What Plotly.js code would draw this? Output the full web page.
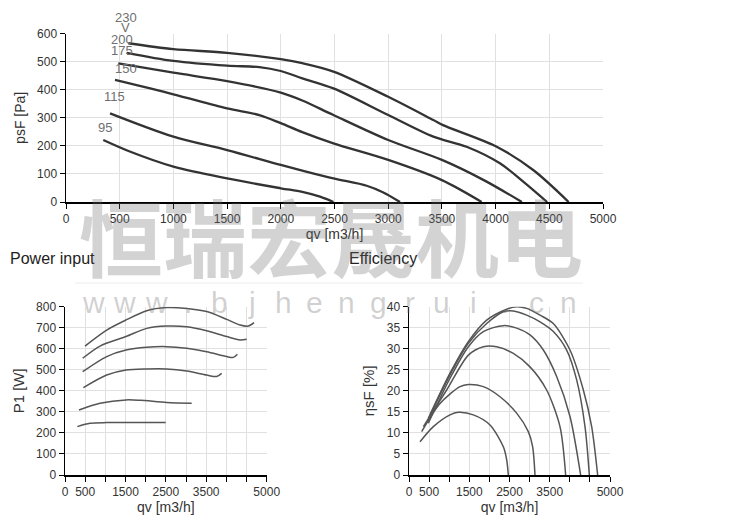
<!DOCTYPE html>
<html>
<head>
<meta charset="utf-8">
<script src="https://cdn.plot.ly/plotly-3.0.1.min.js"></script>
<style>html,body{margin:0;padding:0;background:#fff;}#chart{width:750px;height:524px;}</style>
</head>
<body>
<div id="chart"></div>
<script>
// ---------- DATA ----------
const seriesNames = ["230", "200", "175", "150", "115", "95"];

// Pressure curves psF [Pa] vs qv [m3/h]
const p230x = [580, 1000, 1500, 2000, 2200, 2490, 3000, 3420, 3510, 4010, 4350, 4680];
const p230y = [566, 545, 532, 509, 495, 465, 375, 292, 274, 197, 114, 0];
const p200x = [565, 1000, 1500, 1800, 2000, 2200, 2490, 3000, 3420, 3730, 4040, 4260, 4480];
const p200y = [532, 503, 486, 481, 467, 441, 405, 310, 233, 197, 138, 72, 0];
const p175x = [487, 1000, 1500, 2000, 2200, 2490, 3000, 3500, 3890, 4245];
const p175y = [494, 461, 431, 390, 362, 310, 221, 150, 78, 0];
const p150x = [456, 1000, 1500, 1800, 2000, 2200, 2490, 3000, 3500, 3870];
const p150y = [435, 384, 334, 310, 281, 249, 209, 150, 78, 0];
const p115x = [410, 1000, 1500, 2000, 2200, 2490, 2800, 2950, 3110];
const p115y = [316, 233, 185, 132, 112, 84, 58, 35, 0];
const p95x = [347, 600, 1000, 1500, 2000, 2200, 2365, 2490];
const p95y = [221, 179, 126, 84, 49, 36, 19, 0];

// Power input P1 [W]
const w230x = [496, 1033, 1512, 2025, 2521, 3017, 3512, 4008, 4339, 4545, 4686];
const w230y = [613, 689, 737, 781, 796, 792, 777, 740, 713, 708, 724];
const w200x = [438, 868, 1512, 2025, 2521, 3017, 3512, 4008, 4339, 4504];
const w200y = [555, 613, 658, 697, 708, 705, 686, 658, 642, 645];
const w175x = [438, 1033, 1512, 2025, 2521, 3017, 3512, 4008, 4174, 4273];
const w175y = [491, 563, 594, 607, 610, 602, 586, 563, 559, 574];
const w150x = [455, 1033, 1512, 2025, 2521, 3017, 3512, 3760, 3884];
const w150y = [415, 475, 499, 504, 504, 494, 475, 468, 483];
const w115x = [347, 868, 1512, 1860, 2521, 3140];
const w115y = [309, 341, 357, 355, 345, 341];
const w95x = [306, 620, 1033, 1694, 2496];
const w95y = [230, 246, 249, 249, 249];

// Efficiency etasF [%]
const e230x = [481, 1020, 1476, 1932, 2430, 2678, 2927, 3259, 3590, 4005, 4337, 4544, 4693];
const e230y = [13.5, 24.2, 31.7, 36.8, 39.4, 40.0, 39.6, 38.0, 36.0, 29.7, 20.2, 11.5, 0];
const e200x = [456, 1020, 1476, 1932, 2347, 2595, 2927, 3259, 3590, 3922, 4171, 4378, 4486];
const e200y = [12.7, 23.8, 31.3, 36.0, 38.8, 39.0, 38.0, 36.4, 34.1, 29.7, 22.6, 11.5, 0];
const e175x = [481, 1020, 1476, 1849, 2347, 2678, 3010, 3342, 3673, 4005, 4270];
const e175y = [12.3, 23.0, 30.5, 34.1, 35.5, 34.9, 33.3, 29.7, 23.4, 13.9, 0];
const e150x = [357, 937, 1476, 1849, 2181, 2595, 3010, 3424, 3756, 3897];
const e150y = [11.5, 20.2, 28.5, 30.5, 30.5, 28.9, 25.7, 20.2, 11.5, 0];
const e115x = [315, 771, 1269, 1476, 1849, 2264, 2678, 2968, 3076, 3134];
const e115y = [10.3, 17.0, 21.0, 21.5, 21.0, 18.6, 14.7, 10.3, 6.7, 0];
const e95x = [274, 605, 1020, 1227, 1600, 2015, 2347, 2430, 2471];
const e95y = [7.9, 11.5, 14.3, 14.9, 14.3, 11.9, 6.7, 3.6, 0];

// Curve labels on pressure chart (x in qv units)
const labelText = ["230", "V", "200", "175", "150", "115", "95"];
const labelX = [558, 558, 518, 518, 558, 450, 363];

const bottomTickVals = [0, 500, 1500, 2500, 3500, 5000];
const bottomTickText = ["0", "500", "1500", "2500", "3500", "5000"];

const watermarkCn = "恒瑞宏晟机电";
const watermarkUrl = "www.bjhengrui.cn";

// ---------- TRACES ----------
const pSets = [[p230x, p230y], [p200x, p200y], [p175x, p175y], [p150x, p150y], [p115x, p115y], [p95x, p95y]];
const wSets = [[w230x, w230y], [w200x, w200y], [w175x, w175y], [w150x, w150y], [w115x, w115y], [w95x, w95y]];
const eSets = [[e230x, e230y], [e200x, e200y], [e175x, e175y], [e150x, e150y], [e115x, e115y], [e95x, e95y]];

const traces = [];
pSets.forEach((s, i) => traces.push({
  x: s[0], y: s[1], name: seriesNames[i], type: 'scatter', mode: 'lines',
  line: {color: '#333', width: 2.3, shape: 'spline', smoothing: 0.9},
  xaxis: 'x', yaxis: 'y', showlegend: false, hoverinfo: 'x+y'
}));
wSets.forEach((s, i) => traces.push({
  x: s[0], y: s[1], name: seriesNames[i], type: 'scatter', mode: 'lines',
  line: {color: '#555', width: 1.5, shape: 'spline', smoothing: 0.8},
  xaxis: 'x2', yaxis: 'y2', showlegend: false, hoverinfo: 'x+y'
}));
eSets.forEach((s, i) => traces.push({
  x: s[0], y: s[1], name: seriesNames[i], type: 'scatter', mode: 'lines',
  line: {color: '#555', width: 1.5, shape: 'spline', smoothing: 0.8},
  xaxis: 'x3', yaxis: 'y3', showlegend: false, hoverinfo: 'x+y'
}));

// ---------- LAYOUT ----------
const FONT = 'Liberation Sans, Arial, sans-serif';
const grid = '#e0e0e0';
function baseAxis(extra) {
  return Object.assign({
    showgrid: true, gridcolor: grid, gridwidth: 1,
    showline: true, linecolor: '#000', linewidth: 1.5,
    ticks: 'outside', ticklen: 5, tickcolor: '#000', tickwidth: 1,
    tickfont: {family: FONT, size: 12, color: '#333'},
    zeroline: false, fixedrange: true, automargin: false
  }, extra);
}
const bottomX = (dom, anchor) => baseAxis({
  domain: dom, anchor: anchor, range: [0, 5000],
  tickmode: 'array', tickvals: bottomTickVals, ticktext: bottomTickText,
  minor: {dtick: 500, tick0: 0, ticks: 'outside', ticklen: 5, tickcolor: '#000', showgrid: true, gridcolor: grid},
  title: {text: 'qv [m3/h]', font: {family: FONT, size: 14, color: '#333'}, standoff: 4}
});

// label vertical positions (pixels from top of the page)
const labelPy = [17, 27, 39, 51, 68, 97, 128];
const annotations = [];
labelText.forEach((t, i) => annotations.push({
  text: t, x: labelX[i], y: 1 - labelPy[i] / 524, xref: 'x', yref: 'paper', showarrow: false,
  font: {family: FONT, size: 13, color: '#707070'}, xanchor: 'center', yanchor: 'middle'
}));
annotations.push({text: 'Power input', x: 8 / 750, y: 1 - 258 / 524, xref: 'paper', yref: 'paper',
  showarrow: false, xanchor: 'left', yanchor: 'middle', font: {family: FONT, size: 16, color: '#222'}});
annotations.push({text: 'Efficiency', x: 347 / 750, y: 1 - 258 / 524, xref: 'paper', yref: 'paper',
  showarrow: false, xanchor: 'left', yanchor: 'middle', font: {family: FONT, size: 16, color: '#222'}});
annotations.push({text: '<b>' + watermarkCn + '</b>', x: 331 / 750, y: 1 - 234 / 524, xref: 'paper', yref: 'paper',
  showarrow: false, xanchor: 'center', yanchor: 'middle',
  font: {family: 'Noto Sans CJK SC, sans-serif', size: 84, color: 'rgba(110,110,110,0.30)'}});
Array.from(watermarkUrl).forEach((ch, i) => annotations.push({
  text: ch, x: (93 + i * 31.7) / 750, y: 1 - 302 / 524, xref: 'paper', yref: 'paper',
  showarrow: false, xanchor: 'center', yanchor: 'middle',
  font: {family: FONT, size: 30, color: 'rgba(120,120,120,0.34)'}
}));

const layout = {
  width: 750, height: 524,
  margin: {l: 0, r: 0, t: 0, b: 0},
  paper_bgcolor: '#fff', plot_bgcolor: '#fff',
  font: {family: FONT, color: '#333'},
  showlegend: false,
  xaxis: baseAxis({domain: [66 / 750, 603 / 750], anchor: 'y', range: [0, 5000], dtick: 500, tick0: 0,
    title: {text: 'qv [m3/h]', font: {family: FONT, size: 14, color: '#333'}, standoff: 3}}),
  yaxis: baseAxis({domain: [1 - 202 / 524, 1 - 33.7 / 524], anchor: 'x', range: [0, 600], dtick: 100, tick0: 0,
    title: {text: 'psF [Pa]', font: {family: FONT, size: 14, color: '#333'}, standoff: 8}}),
  xaxis2: bottomX([65 / 750, 266.7 / 750], 'y2'),
  yaxis2: baseAxis({domain: [1 - 475 / 524, 1 - 306.7 / 524], anchor: 'x2', range: [0, 800], dtick: 100, tick0: 0,
    title: {text: 'P1 [W]', font: {family: FONT, size: 15, color: '#333'}, standoff: 8}}),
  xaxis3: bottomX([409 / 750, 610 / 750], 'y3'),
  yaxis3: baseAxis({domain: [1 - 475 / 524, 1 - 306.7 / 524], anchor: 'x3', range: [0, 40], dtick: 5, tick0: 0,
    title: {text: 'ηsF [%]', font: {family: FONT, size: 15, color: '#333'}, standoff: 8}}),
  shapes: [{type: 'line', xref: 'paper', yref: 'paper', x0: 75 / 750, x1: 583 / 750,
    y0: 1 - 283 / 524, y1: 1 - 283 / 524, line: {color: '#ececec', width: 1}}],
  annotations: annotations
};

Plotly.newPlot('chart', traces, layout, {displayModeBar: false, staticPlot: true});
</script>
</body>
</html>
